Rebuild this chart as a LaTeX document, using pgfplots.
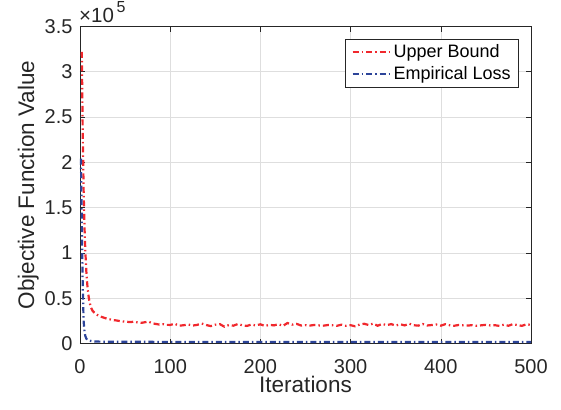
\documentclass[border=0pt]{standalone}
\usepackage{fontspec}
\setmainfont{Liberation Sans}
\usepackage{pgfplots}
\pgfplotsset{compat=1.18}
\definecolor{ubred}{HTML}{F0282D}
\definecolor{elblue}{HTML}{2C4499}
\definecolor{axgray}{HTML}{262626}
\begin{document}
\begin{tikzpicture}
\begin{axis}[
  scale only axis,width=451pt,height=317pt,
  xmin=0,xmax=500,ymin=0,ymax=350000,
  xtick={0,100,...,500},ytick={0,50000,...,350000},
  scaled y ticks=false,
  yticklabels={0,0.5,1,1.5,2,2.5,3,3.5},
  /pgf/number format/assume math mode=true,
  tick label style={font=\fontsize{20}{22}\selectfont,text=axgray},
  xticklabel style={yshift=-12pt},
  yticklabel style={xshift=-4pt},
  label style={font=\fontsize{22.5}{25}\selectfont,text=axgray},
  xlabel={Iterations},ylabel={Objective Function Value},
  xlabel style={yshift=4pt},
  ylabel style={yshift=-1pt},
  grid=major,grid style={color=black!13,line width=0.6pt},
  tick align=inside,major tick length=5pt,
  tick style={color=axgray,line width=0.6pt},
  axis line style={color=axgray,line width=0.7pt},
  legend style={at={(rel axis cs:1,1)},anchor=north east,xshift=-12pt,yshift=-12pt,
    font=\fontsize{18}{20}\selectfont,draw=axgray,line width=0.6pt,
    inner xsep=6pt,inner ysep=4pt,row sep=3pt},
  legend cell align=left,
  legend image code/.code={\draw[#1] (0pt,0pt) -- (38pt,0pt);},
  clip=false]
\addplot[ubred,line width=2.2pt,dash pattern=on 6pt off 3pt on 1.5pt off 3pt] coordinates {
(2,322000)(3,235000)(4,170000)(5,128000)(6,100000)(7,80000)(8,66000)(9,56000)(10,49000)(11,44000)(12,40000)(14,36000)(16,34000)(18,32500)(20,31000)(22,30000)(25,29000)(28,28000)(31,27000)(34,26500)(37,25800)(40,25500)(44,24800)(48,24300)(52,24000)(56,23600)(60,24200)(64,23200)(68,22800)(72,23500)(76,24200)(80,22400)(84,21600)(88,20900)(92,21400)(96,20600)
(100,20500)(105,21800)(110,19600)(115,20200)(120,21000)(125,19800)(130,20600)(135,22000)(140,20400)(145,19200)(150,20800)(155,21400)(160,18600)(165,20300)(170,19700)(175,21500)(180,20100)(185,19400)(190,20900)(195,20000)
(200,21200)(205,19300)(210,20600)(215,20000)(220,21300)(225,19500)(230,22600)(235,20800)(240,21700)(245,19900)(250,20300)(255,19800)(260,20500)(265,20000)(270,19700)(275,20400)(280,20100)(285,19600)(290,20800)(295,19500)
(300,20200)(305,19000)(310,20900)(315,21800)(320,20400)(325,22000)(330,19600)(335,21600)(340,20300)(345,21400)(350,19800)(355,21200)(360,20000)(365,21900)(370,20200)(375,19700)(380,21500)(385,19900)(390,20400)(395,21000)
(400,19700)(405,21300)(410,20100)(415,19600)(420,20500)(425,20000)(430,19800)(435,20300)(440,19500)(445,20100)(450,20600)(455,19900)(460,20200)(465,19400)(470,20800)(475,19600)(480,21400)(485,20300)(490,19500)(495,21300)(500,20400)};
\addlegendentry{Upper Bound}
\addplot[elblue,line width=2.2pt,dash pattern=on 6pt off 3pt on 1.5pt off 3pt] coordinates {
(1,204000)(2,135000)(3,65000)(4,25000)(5,13000)(6,8000)(7,5500)(8,4200)(10,3200)(13,2600)(17,2200)(25,2000)(40,1900)(60,1850)(100,1800)(200,1750)(300,1700)(400,1700)(500,1700)};
\addlegendentry{Empirical Loss}
\node[anchor=south west,inner sep=0pt,text=axgray,font=\fontsize{20.5}{22}\selectfont] at ([xshift=-1pt,yshift=4pt]rel axis cs:0,1) {×10\raisebox{0.45em}{\fontsize{16}{18}\selectfont\,5}};
\path ([xshift=-80pt,yshift=-65.5pt]rel axis cs:0,0) rectangle ([xshift=30pt,yshift=26.5pt]rel axis cs:1,1);
\end{axis}
\end{tikzpicture}
\end{document}
